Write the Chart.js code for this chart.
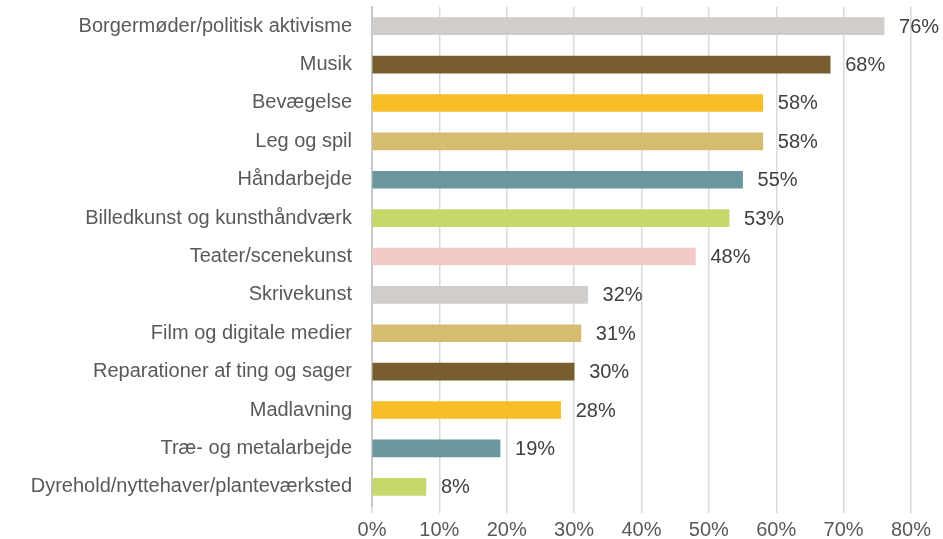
<!DOCTYPE html>
<html>
<head>
<meta charset="utf-8">
<script src="https://cdn.jsdelivr.net/npm/chart.js@4/dist/chart.umd.min.js"></script>
<style>
  html, body { margin: 0; padding: 0; background: #fff; }
  #wrap { width: 943px; height: 539px; }
</style>
</head>
<body>
<div id="wrap"><canvas id="chart" width="943" height="539"></canvas></div>
<script>
const categories = [
  'Borgermøder/politisk aktivisme',
  'Musik',
  'Bevægelse',
  'Leg og spil',
  'Håndarbejde',
  'Billedkunst og kunsthåndværk',
  'Teater/scenekunst',
  'Skrivekunst',
  'Film og digitale medier',
  'Reparationer af ting og sager',
  'Madlavning',
  'Træ- og metalarbejde',
  'Dyrehold/nyttehaver/planteværksted',
];
const shares = [76, 68, 58, 58, 55, 53, 48, 32, 31, 30, 28, 19, 8];
const barColors = [
  '#D0CDCA', '#785E2F', '#F7BF25', '#D6BC6F', '#6A969D', '#C6D86C', '#F2CBC9',
  '#D0CDCA', '#D6BC6F', '#785E2F', '#F7BF25', '#6A969D', '#C6D86C',
];
const xTicks = [0, 10, 20, 30, 40, 50, 60, 70, 80];

const textColor = '#595959';
const fontFamily = "'Liberation Sans', Arial, sans-serif";
const fontSize = 20;

// value labels at the end of each bar
const valueLabels = {
  id: 'valueLabels',
  afterDatasetsDraw(chart) {
    const { ctx } = chart;
    const meta = chart.getDatasetMeta(0);
    ctx.save();
    ctx.font = `${fontSize}px ${fontFamily}`;
    ctx.fillStyle = '#404040';
    ctx.textAlign = 'left';
    ctx.textBaseline = 'middle';
    meta.data.forEach((bar, i) => {
      ctx.fillText(shares[i] + '%', bar.x + 15, bar.y + 1);
    });
    ctx.restore();
  },
};

// no extra edge padding from the axes, layout is set by hand
const noEdgePad = s => {
  s.paddingTop = 0; s.paddingBottom = 0;
  s.paddingLeft = 0; s.paddingRight = 0;
};

new Chart(document.getElementById('chart'), {
  type: 'bar',
  data: {
    labels: categories,
    datasets: [{
      data: shares,
      backgroundColor: barColors,
      borderWidth: 0,
      barThickness: 17,
    }],
  },
  options: {
    indexAxis: 'y',
    responsive: false,
    animation: false,
    layout: { padding: { top: 7, right: 32, bottom: 0, left: 0 } },
    plugins: {
      legend: { display: false },
      tooltip: { enabled: false },
    },
    scales: {
      x: {
        min: 0, max: 80,
        afterBuildTicks: s => { s.ticks = xTicks.map(v => ({ value: v })); },
        afterFit: s => { noEdgePad(s); s.height = 33; },
        ticks: {
          color: textColor,
          font: { family: fontFamily, size: fontSize },
          padding: 5,
          maxRotation: 0,
          callback: v => v + '%',
        },
        grid: { color: '#D9D9D9', lineWidth: 1.5, drawTicks: true, tickLength: 7 },
        border: { display: false },
      },
      y: {
        afterFit: s => { noEdgePad(s); s.width = 372; },
        ticks: {
          color: textColor,
          font: { family: fontFamily, size: fontSize },
          padding: 20,
        },
        grid: { display: false, drawTicks: false },
        border: { display: true, color: '#C8C8C8', width: 2 },
      },
    },
  },
  plugins: [valueLabels],
});
</script>
</body>
</html>
